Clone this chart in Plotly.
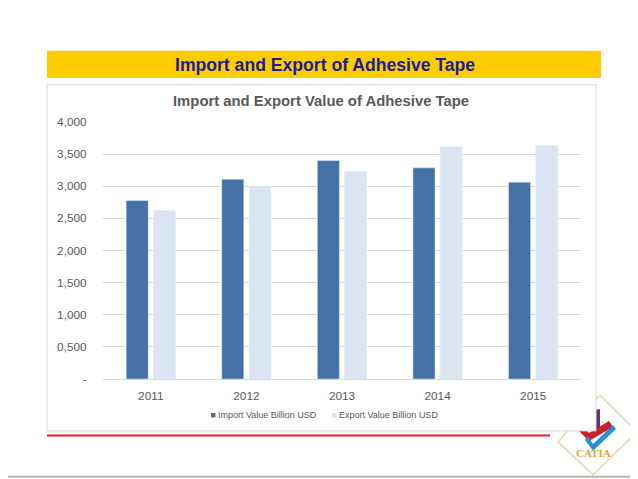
import plotly.graph_objects as go

years = ["2011", "2012", "2013", "2014", "2015"]
import_values = [2778, 3109, 3399, 3286, 3062]
export_values = [2623, 2995, 3228, 3616, 3632]
series_names = ["Import Value Billion USD", "Export Value Billion USD"]
y_tick_values = [0, 500, 1000, 1500, 2000, 2500, 3000, 3500, 4000]
y_tick_labels = ["-", "0,500", "1,000", "1,500", "2,000", "2,500", "3,000", "3,500", "4,000"]

# figure placement on the page (calibrated from a test render)
OX = 8
AY, BY = 14.1, 0.973
W, H = 630, 478
IMPORT_COLOR = "#4671a6"
EXPORT_COLOR = "#dbe4f1"
FONT = "Liberation Sans, Arial, sans-serif"


def px(x):
    return (x - OX) / W


def py(y):
    return 1 - ((y - AY) / BY) / H


def poly(points):
    return "M " + " L ".join(f"{px(x)},{py(y)}" for x, y in points) + " Z"


fig = go.Figure()
fig.add_trace(go.Bar(x=years, y=import_values, name=series_names[0],
                     marker_color=IMPORT_COLOR, showlegend=False))
fig.add_trace(go.Bar(x=years, y=export_values, name=series_names[1],
                     marker_color=EXPORT_COLOR, showlegend=False))

shapes = []
# logo (behind chart box)
shapes.append(dict(type="path", xref="paper", yref="paper",
                   path=poly([(600, 395), (637, 432), (593, 475), (558, 442)]),
                   line=dict(color="#e6d8b6", width=1.5), fillcolor="#ffffff", layer="below"))
shapes.append(dict(type="path", xref="paper", yref="paper",
                   path=poly([(595, 410), (600, 409), (600, 431), (596, 430)]),
                   line=dict(width=0), fillcolor="#6b2d7a", layer="below"))
shapes.append(dict(type="path", xref="paper", yref="paper",
                   path=poly([(577, 429), (589, 441), (613, 427), (609, 421), (589, 433), (583, 425)]),
                   line=dict(width=0), fillcolor="#c8202a", layer="below"))
shapes.append(dict(type="path", xref="paper", yref="paper",
                   path=poly([(585, 440), (593, 451), (616, 429), (613, 425), (593, 444), (588, 436)]),
                   line=dict(width=0), fillcolor="#2a8fd8", layer="below"))
# yellow banner
shapes.append(dict(type="rect", xref="paper", yref="paper",
                   x0=px(47), x1=px(601), y0=py(77.3), y1=py(50),
                   line=dict(width=0), fillcolor="#ffcc00", layer="below"))
# chart box
shapes.append(dict(type="rect", xref="paper", yref="paper",
                   x0=px(47), x1=px(596), y0=py(431), y1=py(84),
                   line=dict(color="#d9d9d9", width=1), fillcolor="#ffffff", layer="below"))
# red line
shapes.append(dict(type="line", xref="paper", yref="paper",
                   x0=px(47), x1=px(550), y0=py(435.5), y1=py(435.5),
                   line=dict(color="#e02020", width=2)))
# bottom gray line
shapes.append(dict(type="line", xref="paper", yref="paper",
                   x0=0, x1=1, y0=py(477), y1=py(477),
                   line=dict(color="#b5b5b5", width=2)))

# legend squares + text
legend_items = [(series_names[0], IMPORT_COLOR, 211), (series_names[1], EXPORT_COLOR, 332)]
annotations = []
for name, color, lx in legend_items:
    shapes.append(dict(type="rect", xref="paper", yref="paper",
                       x0=px(lx), x1=px(lx + 4.5), y0=py(417.5), y1=py(413),
                       line=dict(width=0), fillcolor=color))
    annotations.append(dict(text=name, xref="paper", yref="paper",
                            x=px(lx + 5), y=py(415.3), xanchor="left", yanchor="middle",
                            showarrow=False, font=dict(family=FONT, size=9, color="#595959")))

annotations += [
    dict(text="<b>Import and Export of Adhesive Tape</b>", xref="paper", yref="paper",
         x=px(324.7), y=py(64), xanchor="center", yanchor="middle", showarrow=False,
         font=dict(family=FONT, size=17.6, color="#1c1c9e")),
    dict(text="<b>Import and Export Value of Adhesive Tape</b>", xref="paper", yref="paper",
         x=px(321.3), y=py(100.5), xanchor="center", yanchor="middle", showarrow=False,
         font=dict(family=FONT, size=14.85, color="#595959")),
    dict(text="<b>CATIA</b>", xref="paper", yref="paper",
         x=px(593), y=py(453.5), xanchor="center", yanchor="middle", showarrow=False,
         font=dict(family="Liberation Serif, serif", size=11, color="#d6a345")),
]

fig.update_layout(
    width=W, height=H,
    margin=dict(l=0, r=0, t=0, b=0),
    paper_bgcolor="#ffffff", plot_bgcolor="rgba(0,0,0,0)",
    barmode="group", bargap=0.43, bargroupgap=0.19,
    font=dict(family=FONT, color="#595959"),
    shapes=shapes, annotations=annotations,
    showlegend=False,
    xaxis=dict(domain=[px(103), px(581)], showgrid=False, showline=False, zeroline=False,
               tickfont=dict(size=11.8, color="#595959"), ticks="outside", ticklen=6,
               tickcolor="rgba(0,0,0,0)", fixedrange=True),
    yaxis=dict(domain=[py(379), py(121.3)], range=[0, 4000], tickvals=y_tick_values,
               ticktext=y_tick_labels, showgrid=True, gridcolor="#d9d9d9", gridwidth=1,
               zeroline=True, zerolinecolor="#d9d9d9", zerolinewidth=1, showline=False,
               tickfont=dict(size=11.8, color="#595959"), ticks="outside", ticklen=13,
               tickcolor="rgba(0,0,0,0)", fixedrange=True),
)

fig.write_html("out.html", config={"displayModeBar": False})
